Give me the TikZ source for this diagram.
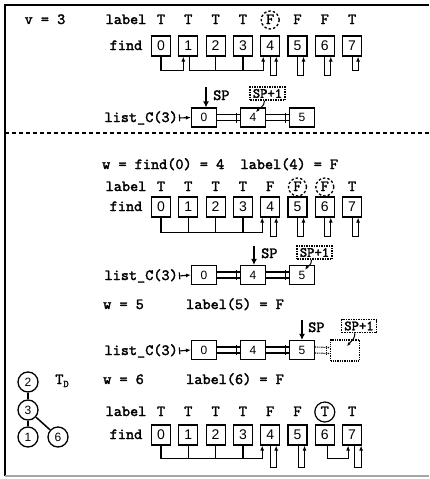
\documentclass[tikz,border=0pt]{standalone}
\usepackage{fontspec}
\newfontfamily\digfont{Liberation Sans}
\newfontfamily\courb{lmmono10-regular}[Extension=.otf, FakeBold=2]
\usetikzlibrary{arrows.meta}
\newcommand\dlk[3][]{%
  \draw[line width=1.1pt,#1] ([yshift=3pt]#2.east) -- ([yshift=3pt]#3.west);
  \draw[line width=1.1pt,#1] ([yshift=-3pt]#2.east) -- ([yshift=-3pt]#3.west);
  \draw[line width=1.1pt,#1] ([xshift=-3pt,yshift=5pt]#3.west) -- ([xshift=-3pt,yshift=-5pt]#3.west);}
\begin{document}
\begin{tikzpicture}[x=1pt,y=-1pt,
  txt/.style={font=\courb\fontsize{15.5}{18}\selectfont, inner sep=0pt, text height=8.5pt, text depth=0.5pt},
  fbox/.style={draw, line width=1.2pt, minimum width=19pt, minimum height=20pt, inner sep=0pt, font=\digfont\fontsize{14}{16}\selectfont},
  lbox/.style={draw, line width=1.2pt, minimum width=25pt, minimum height=19pt, inner sep=0pt, font=\digfont\fontsize{12}{14}\selectfont},
  dbox/.style={draw, line width=1.3pt, densely dotted, minimum width=29pt, minimum height=21pt, inner sep=0pt},
  spbox/.style={draw, line width=1.5pt, densely dotted, minimum width=35pt, minimum height=13pt, inner sep=0pt, font=\courb\fontsize{14}{16}\selectfont},
  tnode/.style={draw, circle, line width=1.3pt, minimum size=20pt, inner sep=0pt, font=\digfont\fontsize{12}{14}\selectfont},
  dcirc/.style={draw, circle, line width=1.3pt, dash pattern=on 2.5pt off 2pt, minimum size=18pt, inner sep=0pt},
  scirc/.style={draw, circle, line width=1.2pt, minimum size=20pt, inner sep=0pt},
  fl/.style={line width=1.2pt},
  fa/.style={line width=1.2pt, -{Latex[length=5pt,width=4pt]}},
  spa/.style={line width=2.2pt, -{Latex[length=6pt,width=6pt]}},
  ca/.style={line width=1pt, -{Latex[length=4pt,width=3pt]}},
  la/.style={line width=1.1pt, {Bar[width=7pt]}-{Latex[length=5pt,width=4pt]}}
]
\useasboundingbox (0,0) rectangle (429,479);
% frame
\draw[line width=1.2pt] (429,5) -- (5,5) -- (5,476);
\draw[line width=1.2pt, gray!70] (5,476) -- (429,476);
\draw[line width=1.2pt, dash pattern=on 4pt off 3pt] (5,133) -- (429,133);

% ---------------- top section
\node[txt] (v3) at (45,20) {v = 3};
\node[txt] (lab1) at (126,20) {label};
\node[txt] (find1) at (126,46) {find};
\foreach \l [count=\i from 0] in {T,T,T,T,F,F,F,T}
  \node[txt] (la\i) at ({161+27.3*\i},20) {\l};
\node[dcirc] (ca4) at (la4) {};
\foreach \i in {0,...,7}
  \node[fbox] (a\i) at ({161+27.3*\i},46) {\i};
\draw[fa] (a0.south) -- ++(0,14) -| ([xshift=-5pt]a1.south);
\draw[fa] ([xshift=1pt]a1.south) -- ++(0,14) -| ([xshift=-7pt]a4.south);
\draw[fl] (a2.south) -- ++(0,14);
\draw[fl] (a3.south) -- ++(0,14);
\foreach \i in {4,5,6}
  \draw[fa] (a\i.south) -- ++(0,19) -| ([xshift=6pt]a\i.south);
\draw[fa] (a7.south) -- ++(0,14) -| ([xshift=6pt]a7.south);

\node[txt,anchor=east] (lc1) at (178,118) {list\_C(3)};
\node[lbox] (p0) at (204,117.5) {0};
\node[lbox] (p4) at (253,117.5) {4};
\node[lbox] (p5) at (302,117.5) {5};
\draw[la] ([xshift=1pt]lc1.east) -- (p0.west);
\dlk{p0}{p4}
\dlk{p4}{p5}
\draw[spa] ([xshift=2pt,yshift=20pt]p0.north) -- ([xshift=2pt]p0.north);
\node[txt,anchor=west] (sp1) at (213,96) {SP};
\node[spbox] (s1) at (267.5,93.5) {SP+1};
\draw[ca] ([xshift=-3pt]s1.south) .. controls +(0,6) and +(3,-4) .. ([xshift=3pt,yshift=-5pt]p4.north);

% ---------------- middle section
\node[txt,anchor=west] (wf) at (102,165) {w = find(0) = 4~~label(4) = F};
\node[txt] (lab2) at (126,187) {label};
\node[txt] (find2) at (126,207) {find};
\foreach \l [count=\i from 0] in {T,T,T,T,F,F,F,T}
  \node[txt] (lb\i) at ({161+27.3*\i},187) {\l};
\node[dcirc] (cb5) at (lb5) {};
\node[dcirc] (cb6) at (lb6) {};
\foreach \i in {0,...,7}
  \node[fbox] (b\i) at ({161+27.3*\i},207) {\i};
\draw[fa] (b0.south) -- ++(0,15) -| ([xshift=-8pt]b4.south);
\foreach \i in {1,2,3}
  \draw[fl] (b\i.south) -- ++(0,15);
\foreach \i in {4,5,6,7}
  \draw[fa] (b\i.south) -- ++(0,19) -| ([xshift=6pt]b\i.south);

\node[txt,anchor=east] (lc2) at (178,276) {list\_C(3)};
\node[lbox] (m0) at (204,275) {0};
\node[lbox] (m4) at (253,275) {4};
\node[lbox] (m5) at (302,275) {5};
\draw[la] ([xshift=1pt]lc2.east) -- (m0.west);
\dlk{m0}{m4}
\dlk{m4}{m5}
\draw[spa] ([xshift=1pt,yshift=19pt]m4.north) -- ([xshift=1pt]m4.north);
\node[txt,anchor=west] (sp2) at (261,254) {SP};
\node[spbox] (s2) at (314.5,252.5) {SP+1};
\draw[ca] ([xshift=-3pt]s2.south) .. controls +(0,6) and +(3,-4) .. ([xshift=3pt,yshift=-5pt]m5.north);

\node[txt,anchor=west] (w5) at (103,305) {w = 5};
\node[txt,anchor=west] (lab5) at (186,305) {label(5) = F};

\node[txt,anchor=east] (lc3) at (178,351) {list\_C(3)};
\node[lbox] (n0) at (204,350) {0};
\node[lbox] (n4) at (253,350) {4};
\node[lbox] (n5) at (302,350) {5};
\node[dbox] (nd) at (345,350.5) {};
\draw[la] ([xshift=1pt]lc3.east) -- (n0.west);
\dlk{n0}{n4}
\dlk{n4}{n5}
\dlk[densely dotted]{n5}{nd}
\draw[spa] ([xshift=0pt,yshift=20pt]n5.north) -- ([xshift=0pt]n5.north);
\node[txt,anchor=west] (sp3) at (308,328) {SP};
\node[spbox] (s3) at (359,326) {SP+1};
\draw[ca] ([xshift=-4pt]s3.south) .. controls +(0,6) and +(3,-4) .. ([xshift=2pt,yshift=-7pt]nd.north);

% ---------------- bottom section
\node[txt,anchor=west] (w6) at (103,380) {w = 6};
\node[txt,anchor=west] (lab6) at (186,380) {label(6) = F};
\node[txt] (td) at (62,380) {T\raisebox{-3pt}{\fontsize{10}{11}\selectfont D}};

\node[txt] (lab3) at (126,412) {label};
\node[txt] (find3) at (126,435) {find};
\foreach \l [count=\i from 0] in {T,T,T,T,F,F,T,T}
  \node[txt] (lc\i) at ({161+27.3*\i},412) {\l};
\node[scirc] (cc6) at (lc6) {};
\foreach \i in {0,...,7}
  \node[fbox] (c\i) at ({161+27.3*\i},435) {\i};
\draw[fa] (c0.south) -- ++(0,13) -| ([xshift=-8pt]c4.south);
\foreach \i in {1,2,3}
  \draw[fl] (c\i.south) -- ++(0,13);
\draw[fa] (c4.south) -- ++(0,22) -| ([xshift=6pt]c4.south);
\draw[fa] ([xshift=1pt]c5.south) -- ++(0,22) -| ([xshift=7pt]c5.south);
\draw[fa] ([xshift=3pt]c6.south) -- ++(0,13) -| ([xshift=-4pt]c7.south);
\draw[fa] ([xshift=2pt]c7.south) -- ++(0,22) -| ([xshift=9pt]c7.south);

% tree
\node[tnode] (t2) at (28,382) {2};
\node[tnode] (t3) at (28,410) {3};
\node[tnode] (t1) at (28,437) {1};
\node[tnode] (t6) at (58,437) {6};
\draw[line width=1.5pt] (t2) -- (t3);
\draw[line width=1.5pt] (t3) -- (t1);
\draw[line width=1.5pt] (t3) -- (t6);
\end{tikzpicture}
\end{document}
